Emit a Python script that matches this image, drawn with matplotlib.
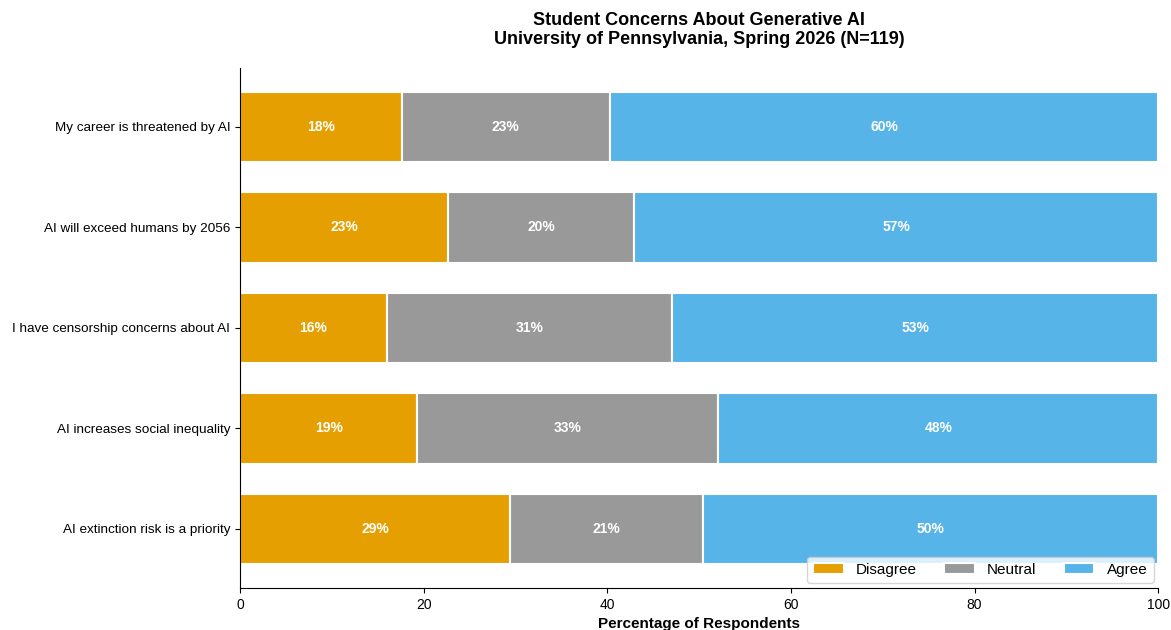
# Stacked horizontal bar chart of student AI concerns

import matplotlib.pyplot as plt
import numpy as np

plt.rcParams['font.family'] = ['Liberation Sans', 'DejaVu Sans']

# survey statements (top to bottom) and percentage of respondents
statements = ['My career is threatened by AI',
              'AI will exceed humans by 2056',
              'I have censorship concerns about AI',
              'AI increases social inequality',
              'AI extinction risk is a priority']
disagree = [17.6, 22.7, 16.0, 19.3, 29.4]
neutral = [22.7, 20.2, 31.1, 32.8, 21.0]
agree = [59.7, 57.1, 52.9, 47.9, 49.6]

categories = ['Disagree', 'Neutral', 'Agree']
colours = ['#E69F00', '#999999', '#56B4E9']

fig, ax = plt.subplots(figsize=(11.71, 6.3), dpi=100)
fig.subplots_adjust(left=0.205, right=0.989, top=0.892, bottom=0.067)

ypos = np.arange(len(statements))[::-1]
left = np.zeros(len(statements))
for name, vals, col in zip(categories, [disagree, neutral, agree], colours):
    vals = np.array(vals)
    ax.barh(ypos, vals, left=left, height=0.7, color=col, edgecolor='white',
            linewidth=1.5, label=name)
    for y, l, v in zip(ypos, left, vals):
        ax.text(l + v / 2, y, f'{v:.0f}%', ha='center', va='center',
                color='white', fontsize=10, fontweight='bold')
    left += vals

ax.set_yticks(ypos)
ax.set_yticklabels(statements, fontsize=9.7)
ax.set_xlim(0, 100)
ax.tick_params(axis='x', labelsize=10)
ax.set_xlabel('Percentage of Respondents', fontsize=11, fontweight='bold')
ax.set_title('Student Concerns About Generative AI\nUniversity of Pennsylvania, Spring 2026 (N=119)',
             fontsize=13, fontweight='bold', pad=17)
ax.spines['top'].set_visible(False)
ax.spines['right'].set_visible(False)
ax.legend(loc='lower right', ncol=3, fontsize=11, frameon=True,
          borderaxespad=0.3, columnspacing=1.8, handlelength=2.0)

fig.savefig('out.png', dpi=100)
